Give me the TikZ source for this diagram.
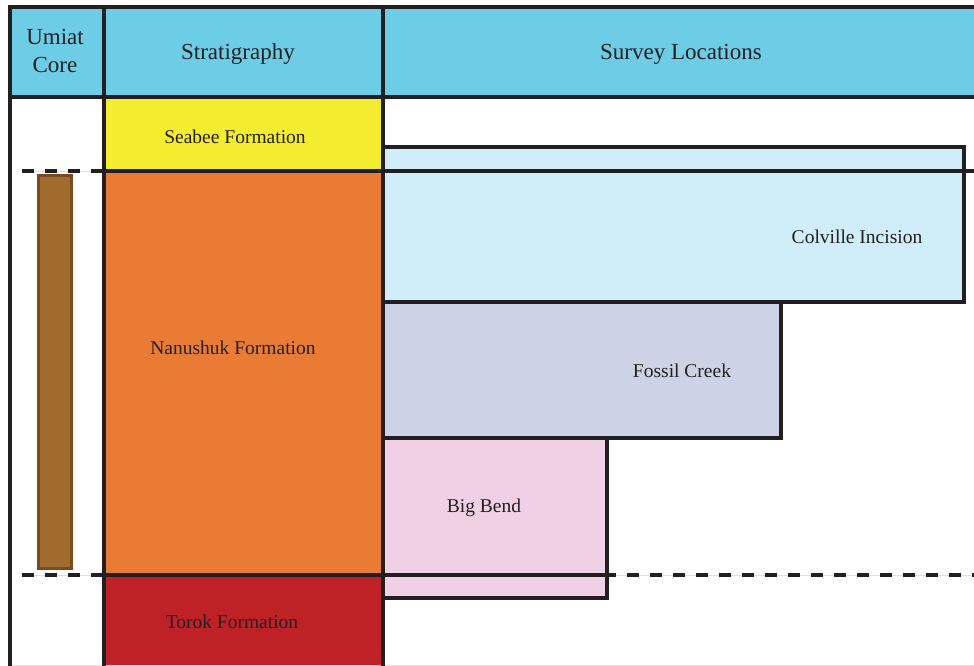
\documentclass[tikz,border=0pt]{standalone}
\usepackage{fontspec}
\setmainfont{Liberation Serif}
\definecolor{ink}{HTML}{231F20}
\definecolor{hdr}{HTML}{6DCCE6}
\definecolor{seabee}{HTML}{F4EC2F}
\definecolor{nanu}{HTML}{E97B35}
\definecolor{torok}{HTML}{BE2126}
\definecolor{colv}{HTML}{D0EEF9}
\definecolor{fossil}{HTML}{CDD3E6}
\definecolor{bigbend}{HTML}{EFD0E5}
\definecolor{core}{HTML}{A06B2C}
\definecolor{corebrd}{HTML}{7B4A1E}
\tikzset{
  rule/.style={draw=ink, line width=4pt},
  area/.style={rectangle, inner sep=0pt, outer sep=0pt, anchor=north west},
  boxed/.style={area, draw=ink, line width=4pt},
  hdrtext/.style={text=ink, font=\fontsize{23}{28}\selectfont, anchor=base, align=center, inner sep=0pt},
  bodytext/.style={text=ink, font=\fontsize{19.5}{23}\selectfont, anchor=base, inner sep=0pt},
  dashrule/.style={draw=ink, line width=4pt, dash pattern=on 12pt off 11pt},
  hair/.style={draw=gray!25, line width=0.6pt}
}
\begin{document}
\begin{tikzpicture}[x=1pt,y=-1pt]
\useasboundingbox[fill=white] (0,0) rectangle (974,666);
% header and stratigraphy fills
\node[area, fill=hdr, minimum width=964pt, minimum height=90pt] (header) at (10,7) {};
\node[area, fill=seabee, minimum width=279pt, minimum height=74pt] (seabee) at (104,97) {};
\node[area, fill=nanu, minimum width=279pt, minimum height=404pt] (nanushuk) at (104,171) {};
\node[area, fill=torok, minimum width=279pt, minimum height=91pt] (torok) at (104,575) {};
% survey boxes
\node[boxed, fill=colv, minimum width=581pt, minimum height=155pt] (colville) at (383,147) {};
\node[boxed, fill=fossil, minimum width=398pt, minimum height=136pt] (fossilbox) at (383,302) {};
\node[boxed, fill=bigbend, minimum width=224pt, minimum height=160pt] (bigbendbox) at (383,438) {};
% core bar
\node[draw=corebrd, fill=core, line width=3pt, minimum width=33pt, minimum height=393pt, inner sep=0pt] (umiatcore) at (55,372) {};
% coordinates for rules
\coordinate (tl) at (10,7);
\coordinate (tr) at (974,7);
\coordinate (bl) at (10,666);
\coordinate (hl) at (10,97);
\coordinate (hr) at (974,97);
\coordinate (c1t) at (104,7);
\coordinate (c1b) at (104,666);
\coordinate (c2t) at (383,7);
\coordinate (c2b) at (383,666);
\coordinate (nl) at (104,171);
\coordinate (nr) at (964,171);
\coordinate (tkl) at (104,575);
\coordinate (tkr) at (607,575);
\coordinate (d1a) at (22,171);
\coordinate (d1b) at (964,171);
\coordinate (d1c) at (974,171);
\coordinate (d2a) at (22,575);
\coordinate (d2c) at (974,575);
\coordinate (botl) at (10,665.5);
\coordinate (botr) at (974,665.5);
% hairlines under dashes
\draw[hair] (d1a) -- (nl);
\draw[hair] (d1b) -- (d1c);
\draw[hair] (d2a) -- (tkl);
\draw[hair] (tkr) -- (d2c);
\draw[hair] (botl) -- (botr);
% dashed rules
\draw[dashrule] (d1a) -- (nl);
\draw[dashrule] (d1b) -- (d1c);
\draw[dashrule] (d2a) -- (tkl);
\draw[dashrule, dash phase=3pt] (tkr) -- (d2c);
% solid rules
\draw[rule] (bl) -- (tl) -- (tr);
\draw[rule] (hl) -- (hr);
\draw[rule] (c1t) -- (c1b);
\draw[rule] (c2t) -- (c2b);
\draw[rule] (nl) -- (nr);
\draw[rule] (tkl) -- (tkr);
% texts
\node[hdrtext] (tumiat) at (55,73) {Umiat\\Core};
\node[hdrtext] (tstrat) at (238,60) {Stratigraphy};
\node[hdrtext] (tsurvey) at (681,60) {Survey Locations};
\node[bodytext] (tseabee) at (235,143) {Seabee Formation};
\node[bodytext] (tnanu) at (233,354) {Nanushuk Formation};
\node[bodytext] (ttorok) at (232,628) {Torok Formation};
\node[bodytext] (tcolv) at (857,243) {Colville Incision};
\node[bodytext] (tfossil) at (682,377) {Fossil Creek};
\node[bodytext] (tbig) at (484,512) {Big Bend};
\end{tikzpicture}
\end{document}
